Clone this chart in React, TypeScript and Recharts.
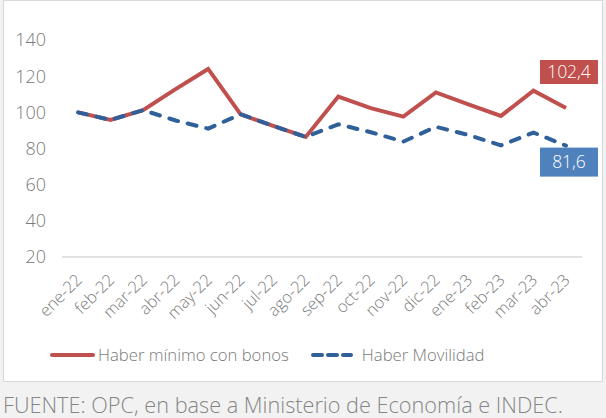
import React from "react";
import { LineChart, Line, XAxis, YAxis, Legend, LabelList } from "recharts";

const MONTHS = [
  "ene-22", "feb-22", "mar-22", "abr-22", "may-22", "jun-22", "jul-22", "ago-22",
  "sep-22", "oct-22", "nov-22", "dic-22", "ene-23", "feb-23", "mar-23", "abr-23",
];
const CON_BONOS = [100, 95.8, 101.2, 112.8, 124, 98.9, 92.5, 86.4, 108.7, 102.3, 97.6, 111, 104.4, 98, 112, 102.4];
const MOVILIDAD = [100, 95.8, 101.2, 95.5, 91, 98.9, 92.5, 86.4, 93.4, 89, 83.8, 92, 87.5, 81.7, 88.8, 81.6];
const Y_TICKS = [20, 40, 60, 80, 100, 120, 140];

const RED = "#c0504d";
const BLUE_LINE = "#30609a";
const BLUE_BOX = "#4f81bd";
const TEXT = "#7a7a7a";
const FONT = "'Open Sans', sans-serif";

const data = MONTHS.map((m, i) => ({ mes: m, bonos: CON_BONOS[i], movilidad: MOVILIDAD[i] }));
const last = MONTHS.length - 1;

const fmt = (v: number) => v.toFixed(1).replace(".", ",");

function MonthTick(props: any) {
  const { x, payload } = props;
  const ax = x + 5;
  const ay = 281;
  return (
    <text
      x={ax}
      y={ay}
      transform={`rotate(-45, ${ax}, ${ay})`}
      textAnchor="end"
      fill={TEXT}
      fontSize={16.5}
      fontWeight={300}
      fontFamily={FONT}
    >
      {payload.value}
    </text>
  );
}

function EndLabel(fill: string, above: boolean) {
  return (props: any) => {
    const { x, y, index, value } = props;
    if (index !== last) return null;
    const w = 58;
    const h = above ? 24 : 29;
    const bx = x - 26;
    const by = above ? y - 48 : y + 2;
    return (
      <g>
        <rect x={bx} y={by} width={w} height={h} fill={fill} />
        <text
          x={bx + w / 2}
          y={by + h / 2}
          dy="0.36em"
          textAnchor="middle"
          fill="#fff"
          fontSize={17.5}
          fontWeight={300}
          fontFamily={FONT}
        >
          {fmt(value)}
        </text>
      </g>
    );
  };
}

function LegendBox() {
  const item = { display: "flex", alignItems: "center", whiteSpace: "nowrap" as const };
  return (
    <div style={{ display: "flex", alignItems: "center", fontFamily: FONT, fontSize: 16.7, fontWeight: 300, color: TEXT }}>
      <div style={item}>
        <svg width={45} height={8}>
          <line x1={2} y1={4} x2={43} y2={4} stroke={RED} strokeWidth={4} strokeLinecap="round" />
        </svg>
        <span style={{ marginLeft: 3 }}>Haber mínimo con bonos</span>
      </div>
      <div style={{ ...item, marginLeft: 22 }}>
        <svg width={42} height={8}>
          <line x1={2} y1={4} x2={40} y2={4} stroke={BLUE_LINE} strokeWidth={4} strokeLinecap="round" strokeDasharray="9 6" />
        </svg>
        <span style={{ marginLeft: 9 }}>Haber Movilidad</span>
      </div>
    </div>
  );
}

export default function App() {
  return (
    <div style={{ position: "absolute", left: 0, top: 0, width: 606, height: 418, background: "#f2f2f2" }}>
      <div
        style={{
          position: "absolute",
          left: 3,
          top: 0,
          width: 600,
          height: 382,
          boxSizing: "border-box",
          border: "1px solid #d9d9d9",
          background: "#fff",
        }}
      />
      <div style={{ position: "absolute", left: 3, top: 0 }}>
        <LineChart width={600} height={382} data={data} margin={{ top: 40, right: 21, left: 0, bottom: 55 }}>
          <XAxis
            dataKey="mes"
            interval={0}
            height={70}
            padding={{ left: 16, right: 16 }}
            tickLine={false}
            axisLine={{ stroke: "#d9d9d9", strokeWidth: 1.5 }}
            tick={<MonthTick />}
          />
          <YAxis
            width={59}
            domain={[20, 140]}
            ticks={Y_TICKS}
            axisLine={false}
            tickLine={false}
            tickMargin={10}
            tick={{ fill: TEXT, fontSize: 18, fontWeight: 300, fontFamily: FONT }}
          />
          <Legend
            verticalAlign="middle"
            layout="horizontal"
            content={<LegendBox />}
            wrapperStyle={{ top: 343, left: 47, width: "auto" }}
          />
          <Line
            dataKey="bonos"
            stroke={RED}
            strokeWidth={4}
            dot={false}
            isAnimationActive={false}
          >
            <LabelList dataKey="bonos" content={EndLabel(RED, true)} />
          </Line>
          <Line
            dataKey="movilidad"
            stroke={BLUE_LINE}
            strokeWidth={4}
            strokeDasharray="9 10"
            strokeLinecap="round"
            dot={false}
            isAnimationActive={false}
          >
            <LabelList dataKey="movilidad" content={EndLabel(BLUE_BOX, false)} />
          </Line>
        </LineChart>
      </div>
      <div
        style={{
          position: "absolute",
          left: 3,
          top: 394,
          fontFamily: FONT,
          fontSize: 21.7,
          fontWeight: 300,
          lineHeight: "21px",
          color: "#858585",
          whiteSpace: "nowrap",
        }}
      >
        FUENTE: OPC, en base a Ministerio de Economía e INDEC.
      </div>
    </div>
  );
}
